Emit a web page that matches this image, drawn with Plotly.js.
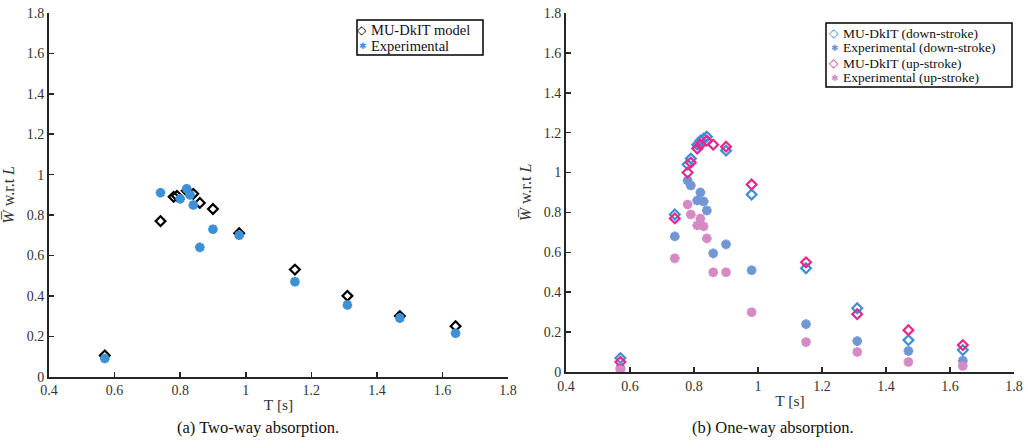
<!DOCTYPE html>
<html><head><meta charset="utf-8">
<script src="https://cdn.plot.ly/plotly-3.0.1.min.js"></script>
<style>html,body{margin:0;padding:0;background:#fff}#chart{width:1028px;height:448px}</style>
</head><body><div id="chart"></div>
<script>
// (a) Two-way absorption
const twoWayModelT = [0.57,0.74,0.78,0.79,0.82,0.84,0.86,0.90,0.98,1.15,1.31,1.47,1.64];
const twoWayModelW = [0.105,0.77,0.89,0.895,0.92,0.905,0.86,0.83,0.71,0.53,0.40,0.30,0.25];
const twoWayExpT = [0.57,0.74,0.80,0.82,0.83,0.84,0.86,0.90,0.98,1.15,1.31,1.47,1.64];
const twoWayExpW = [0.09,0.91,0.88,0.93,0.90,0.85,0.64,0.73,0.70,0.47,0.355,0.29,0.215];
// (b) One-way absorption
const downModelT = [0.57,0.74,0.78,0.79,0.81,0.82,0.83,0.84,0.90,0.98,1.15,1.31,1.47,1.64];
const downModelW = [0.07,0.79,1.04,1.07,1.14,1.16,1.17,1.18,1.11,0.89,0.52,0.32,0.16,0.11];
const upModelT = [0.57,0.74,0.78,0.79,0.81,0.82,0.84,0.86,0.90,0.98,1.15,1.31,1.47,1.64];
const upModelW = [0.05,0.77,1.00,1.05,1.12,1.14,1.16,1.14,1.13,0.94,0.55,0.29,0.21,0.135];
const downExpT = [0.57,0.74,0.78,0.79,0.81,0.82,0.83,0.84,0.86,0.90,0.98,1.15,1.31,1.47,1.64];
const downExpW = [0.02,0.68,0.96,0.935,0.86,0.90,0.855,0.81,0.595,0.64,0.51,0.24,0.155,0.105,0.057];
const upExpT = [0.57,0.74,0.78,0.79,0.81,0.82,0.83,0.84,0.86,0.90,0.98,1.15,1.31,1.47,1.64];
const upExpW = [0.01,0.57,0.84,0.79,0.735,0.77,0.73,0.67,0.50,0.50,0.30,0.15,0.10,0.05,0.03];

const leftNames = ['MU-DkIT model','Experimental'];
const rightNames = ['MU-DkIT (down-stroke)','Experimental (down-stroke)','MU-DkIT (up-stroke)','Experimental (up-stroke)'];
const C = {black:'#000000', blueA:'#3d8fd6', blueD:'#3b8fd8', slate:'#7096d4', pink:'#e8268c', mauve:'#d68ac4'};

const SERIF = '"Liberation Serif", "DejaVu Serif", serif';
const diamond = (c) => ({symbol:'diamond-open', size:7.5, color:c, line:{color:c, width:2.2}});
const star = (c) => ({symbol:'asterisk-open', size:8, color:c, line:{color:c, width:3}});

const traces = [
  {x:twoWayModelT, y:twoWayModelW, mode:'markers', type:'scatter', name:leftNames[0], marker:diamond(C.black), xaxis:'x', yaxis:'y'},
  {x:twoWayExpT, y:twoWayExpW, mode:'markers', type:'scatter', name:leftNames[1], marker:star(C.blueA), xaxis:'x', yaxis:'y'},
  {x:downModelT, y:downModelW, mode:'markers', type:'scatter', name:rightNames[0], marker:diamond(C.blueD), xaxis:'x2', yaxis:'y2'},
  {x:downExpT, y:downExpW, mode:'markers', type:'scatter', name:rightNames[1], marker:star(C.slate), xaxis:'x2', yaxis:'y2'},
  {x:upModelT, y:upModelW, mode:'markers', type:'scatter', name:rightNames[2], marker:diamond(C.pink), xaxis:'x2', yaxis:'y2'},
  {x:upExpT, y:upExpW, mode:'markers', type:'scatter', name:rightNames[3], marker:star(C.mauve), xaxis:'x2', yaxis:'y2'}
];

const axCommon = {showgrid:false, zeroline:false, showline:true, linewidth:2, linecolor:'#262626',
  ticks:'inside', ticklen:5, tickwidth:1.5, tickcolor:'#262626', dtick:0.2,
  tickfont:{family:SERIF, size:14, color:'#333333'}};
const ytitle = {text:'<i>W\u0305</i> w.r.t <i>L</i>', font:{family:SERIF, size:16, color:'#333333'}, standoff:8};
const xtitle = {text:'T [s]', font:{family:SERIF, size:15.5, color:'#333333'}, standoff:2};

// custom compact legends (text annotations + frame)
const W = 1028, H = 448;
const px = (v) => v / W, py = (v) => 1 - v / H;
const annotations = [];
const shapes = [];
function addLegend(names, colors, kinds, box, textX, markX, lineYs, fsize) {
  shapes.push({type:'rect', xref:'paper', yref:'paper', x0:px(box[0]), x1:px(box[1]), y0:py(box[3]), y1:py(box[2]),
    line:{color:'#000', width:1.5}, fillcolor:'#fff', layer:'above'});
  names.forEach((n, i) => {
    annotations.push({text:n, xref:'paper', yref:'paper', x:px(textX), y:py(lineYs[i]), xanchor:'left', yanchor:'middle',
      showarrow:false, borderpad:0, font:{family:SERIF, size:fsize, color:'#111'}});
    const glyph = kinds[i] === 'd' ? '<b>\u25C7</b>' : '\u2731';
    annotations.push({text:glyph, xref:'paper', yref:'paper', x:px(markX), y:py(lineYs[i]), xanchor:'right', yanchor:'middle',
      showarrow:false, borderpad:0, font:{family:'"DejaVu Sans", sans-serif', size:kinds[i] === 'd' ? 12 : 9, color:colors[i]}});
  });
}
addLegend(leftNames, [C.black, C.blueA], ['d','s'], [357, 483, 20, 55], 370, 368, [30, 46], 14.5);
addLegend(rightNames, [C.blueD, C.slate, C.pink, C.mauve], ['d','s','d','s'], [826, 1012, 23, 87], 842, 840, [33, 48, 63, 78], 13.5);

annotations.push(
  {text:'(a) Two-way absorption.', xref:'paper', yref:'paper', x:px(257.5), y:py(427), xanchor:'center', yanchor:'middle', showarrow:false, font:{family:SERIF, size:16.5, color:'#111'}},
  {text:'(b) One-way absorption.', xref:'paper', yref:'paper', x:px(773), y:py(427), xanchor:'center', yanchor:'middle', showarrow:false, font:{family:SERIF, size:16.5, color:'#111'}}
);

const layout = {
  width:W, height:H, margin:{l:0, r:0, t:0, b:0}, paper_bgcolor:'#fff', plot_bgcolor:'#fff',
  font:{family:SERIF, color:'#222'}, showlegend:false,
  xaxis:Object.assign({}, axCommon, {domain:[0.0477,0.4942], range:[0.4,1.8], tick0:0.4, anchor:'y', title:xtitle}),
  yaxis:Object.assign({}, axCommon, {domain:[0.1592,0.971], range:[0,1.8], tick0:0, anchor:'x', title:ytitle}),
  xaxis2:Object.assign({}, axCommon, {domain:[0.5506,0.9864], range:[0.4,1.8], tick0:0.4, anchor:'y2', title:xtitle}),
  yaxis2:Object.assign({}, axCommon, {domain:[0.1696,0.971], range:[0,1.8], tick0:0, anchor:'x2', title:ytitle}),
  shapes:shapes, annotations:annotations
};
Plotly.newPlot('chart', traces, layout, {displayModeBar:false, staticPlot:true});
</script></body></html>
